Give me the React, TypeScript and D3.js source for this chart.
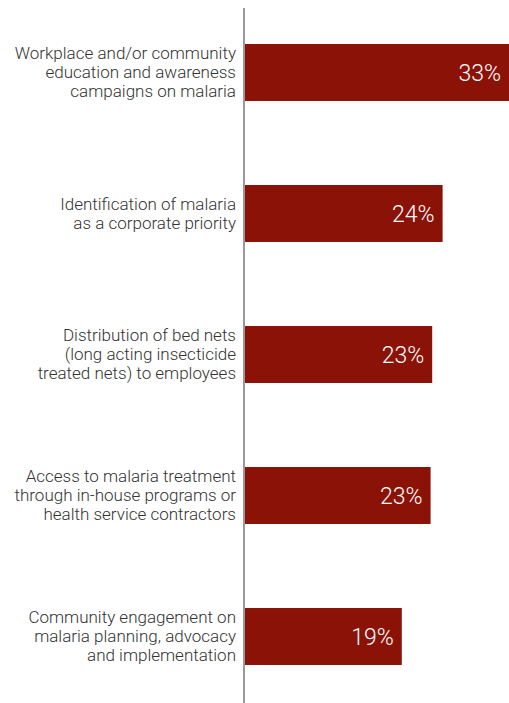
import React, { useEffect, useRef } from 'react';
import * as d3 from 'd3';

const categories: string[][] = [
  ['Workplace and/or community', 'education and awareness', 'campaigns on malaria'],
  ['Identification of malaria', 'as a corporate priority'],
  ['Distribution of bed nets', '(long acting insecticide', 'treated nets) to employees'],
  ['Access to malaria treatment', 'through in-house programs or', 'health service contractors'],
  ['Community engagement on', 'malaria planning, advocacy', 'and implementation'],
];
const values = [33, 24.7, 23.4, 23.2, 19.6];
const valueLabels = ['33%', '24%', '23%', '23%', '19%'];

const WIDTH = 509;
const HEIGHT = 703;

const App: React.FC = () => {
  const svgRef = useRef<SVGSVGElement>(null);

  useEffect(() => {
    if (!svgRef.current) return;
    const svg = d3.select(svgRef.current);
    svg.selectAll('*').remove();

    const x0 = 245;
    const x = d3.scaleLinear().domain([0, 33]).range([x0, WIDTH]);
    const y = d3.scaleBand<number>()
      .domain(d3.range(values.length))
      .range([2, 707])
      .paddingInner(0.596)
      .paddingOuter(0.298);

    const font = 'Roboto, "Helvetica Neue", Arial, sans-serif';

    // bars
    svg.append('g')
      .selectAll('rect')
      .data(values)
      .enter().append('rect')
      .attr('x', x0)
      .attr('y', (_d, i) => y(i)!)
      .attr('width', d => x(d) - x0)
      .attr('height', y.bandwidth())
      .attr('fill', '#8b1207');

    // value labels
    svg.append('g')
      .selectAll('text')
      .data(values)
      .enter().append('text')
      .attr('x', d => x(d) - 8)
      .attr('y', (_d, i) => y(i)! + y.bandwidth() / 2)
      .attr('dy', '0.36em')
      .attr('text-anchor', 'end')
      .attr('fill', '#ffffff')
      .style('font-family', font)
      .style('font-weight', 300)
      .style('font-size', '23px')
      .text((_d, i) => valueLabels[i]);

    // category labels
    const lineH = 19;
    const labels = svg.append('g')
      .selectAll('text')
      .data(categories)
      .enter().append('text')
      .attr('text-anchor', 'end')
      .attr('fill', '#333333')
      .style('font-family', font)
      .style('font-weight', 300)
      .style('font-size', '17px');

    labels.each(function (lines, i) {
      const cy = y(i)! + y.bandwidth() / 2;
      const start = cy - ((lines.length - 1) * lineH) / 2;
      d3.select(this)
        .selectAll('tspan')
        .data(lines)
        .enter().append('tspan')
        .attr('x', 236)
        .attr('y', (_l, j) => start + j * lineH)
        .attr('dy', '0.35em')
        .text(l => l);
    });

    // vertical axis line
    svg.append('line')
      .attr('x1', 244)
      .attr('x2', 244)
      .attr('y1', 8)
      .attr('y2', HEIGHT)
      .attr('stroke', '#777777')
      .attr('stroke-width', 1.5);
  }, []);

  return (
    <svg
      ref={svgRef}
      width={WIDTH}
      height={HEIGHT}
      style={{ position: 'absolute', left: 0, top: 0, background: '#fff' }}
    />
  );
};

export default App;
